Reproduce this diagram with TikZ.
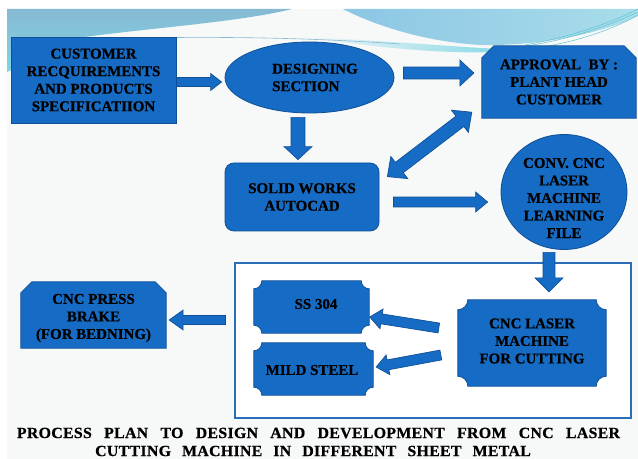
\documentclass[tikz,border=0pt]{standalone}
\usepackage{fontspec}
\setmainfont{Liberation Serif}[BoldFeatures={FakeBold=0.6}]
\usetikzlibrary{calc,shapes.geometric}

\definecolor{boxblue}{HTML}{166CC4}
\definecolor{edgeblue}{HTML}{0F4F97}
\definecolor{frameblue}{HTML}{2B6DB6}
\definecolor{slidebg}{HTML}{F7F8F8}
\definecolor{wavesteel}{HTML}{86BAD3}
\definecolor{wavecyan}{HTML}{7DD5E4}
\definecolor{wavelight}{HTML}{A9DDEA}
\definecolor{wavedeep}{HTML}{8CC6E4}
\definecolor{waveline}{HTML}{5FC3D3}

\pgfdeclarelayer{wave}
\pgfdeclarelayer{frame}
\pgfdeclarelayer{shapes}
\pgfsetlayers{wave,frame,shapes,main}

\tikzset{
  txt/.style={font=\bfseries\fontsize{15}{17.6}\selectfont, text=black, align=center, inner sep=0pt},
  captxt/.style={font=\bfseries\fontsize{15}{17.6}\selectfont\addfontfeature{LetterSpace=2}, text=black, inner sep=0pt},
  shapefill/.style={fill=boxblue, draw=edgeblue, line width=0.8pt},
  fatarrow/.style={fill=boxblue, draw=edgeblue, line width=0.7pt, line join=miter},
}

% block arrow: start, end, half shaft width, half head width, head length (pt)
\newcommand\fatarrow[5]{%
  \draw[fatarrow] let \p1=#1, \p2=#2,
      \n1={atan2(\y2-\y1,\x2-\x1)}, \n2={veclen(\x2-\x1,\y2-\y1)} in
    [shift={(\p1)}, rotate=\n1]
    (0pt,#3pt) -- ({\n2-#5pt},#3pt) -- ({\n2-#5pt},#4pt) -- (\n2,0pt)
    -- ({\n2-#5pt},-#4pt) -- ({\n2-#5pt},-#3pt) -- (0pt,-#3pt) -- cycle;}

% block arrow with a head at both ends
\newcommand\fatdarrow[5]{%
  \draw[fatarrow] let \p1=#1, \p2=#2,
      \n1={atan2(\y2-\y1,\x2-\x1)}, \n2={veclen(\x2-\x1,\y2-\y1)} in
    [shift={(\p1)}, rotate=\n1]
    (#5pt,#3pt) -- ({\n2-#5pt},#3pt) -- ({\n2-#5pt},#4pt) -- (\n2,0pt)
    -- ({\n2-#5pt},-#4pt) -- ({\n2-#5pt},-#3pt) -- (#5pt,-#3pt) -- (#5pt,-#4pt)
    -- (0pt,0pt) -- (#5pt,#4pt) -- cycle;}

% plaque outline (quarter-circle notches) around a node
\newcommand\plaque[2]{%
  \begin{pgfonlayer}{shapes}
  \draw[shapefill]
    ([xshift=#2bp]#1.north west) -- ([xshift=-#2bp]#1.north east)
    .. controls ([xshift=-#2bp,yshift={-0.55*#2bp}]#1.north east)
            and ([xshift={-0.55*#2bp},yshift=-#2bp]#1.north east) .. ([yshift=-#2bp]#1.north east)
    -- ([yshift=#2bp]#1.south east)
    .. controls ([xshift={-0.55*#2bp},yshift=#2bp]#1.south east)
            and ([xshift=-#2bp,yshift={0.55*#2bp}]#1.south east) .. ([xshift=-#2bp]#1.south east)
    -- ([xshift=#2bp]#1.south west)
    .. controls ([xshift=#2bp,yshift={0.55*#2bp}]#1.south west)
            and ([xshift={0.55*#2bp},yshift=#2bp]#1.south west) .. ([yshift=#2bp]#1.south west)
    -- ([yshift=-#2bp]#1.north west)
    .. controls ([xshift={0.55*#2bp},yshift=-#2bp]#1.north west)
            and ([xshift=#2bp,yshift={-0.55*#2bp}]#1.north west) .. ([xshift=#2bp]#1.north west)
    -- cycle;
  \end{pgfonlayer}}

% rectangle with its two top corners cut off
\newcommand\snipbox[2]{%
  \begin{pgfonlayer}{shapes}
  \draw[shapefill]
    ([xshift=#2bp]#1.north west) -- ([xshift=-#2bp]#1.north east)
    -- ([yshift=-#2bp]#1.north east) -- (#1.south east) -- (#1.south west)
    -- ([yshift=-#2bp]#1.north west) -- cycle;
  \end{pgfonlayer}}

\begin{document}
\begin{tikzpicture}[x=1bp, y=-1bp]
\useasboundingbox (0,0) rectangle (638,459);

% slide background and header wave
\begin{pgfonlayer}{wave}
  \fill[white] (0,0) rectangle (638,459);
  \fill[slidebg] (7,9) rectangle (638,459);
  \shade[top color=wavesteel, bottom color=wavecyan]
    (7,9) -- (292,9) .. controls (240,22) and (150,28) .. (85,37)
    .. controls (55,45) and (30,62) .. (7,72) -- cycle;
  \shade[left color=wavedeep, right color=wavelight]
    (343,9) -- (638,9) -- (638,16) .. controls (600,34) and (540,46) .. (480,45)
    .. controls (430,42) and (380,28) .. (343,9) -- cycle;
  \shade[left color=slidebg, right color=wavecyan]
    (300,37) .. controls (400,41) and (460,48) .. (525,50)
    .. controls (460,56) and (400,50) .. (300,37) -- cycle;
  \draw[wavesteel, line width=0.6bp] (95,39) .. controls (200,36) and (300,37) .. (400,44);
  \draw[waveline, line width=0.5bp] (520,47) .. controls (570,40) and (610,25) .. (638,12);
  \draw[waveline, line width=0.5bp] (525,45) .. controls (575,36) and (612,22) .. (638,9);
  \draw[waveline, line width=0.5bp] (530,49) .. controls (580,42) and (615,28) .. (638,15);
\end{pgfonlayer}

% frame around the cutting stage
\begin{pgfonlayer}{frame}
  \node[draw=frameblue, line width=1.2pt, fill=white, minimum width=396bp,
        minimum height=155bp, inner sep=0pt] (frame) at (433,340.5) {};
\end{pgfonlayer}

% blocks
\node[txt, shapefill, rectangle, minimum width=165bp, minimum height=86bp] (cust) at (93.5,80)
  {CUSTOMER\\RECQUIREMENTS\\AND PRODUCTS\\SPECIFICATIION};
\node[shapefill, ellipse, minimum width=169bp, minimum height=71bp, inner sep=0pt] (design) at (309.5,77.5) {};
\node[txt, align=left, anchor=west] (designtxt) at (272,77.5) {DESIGNING\\SECTION};

\node[txt, minimum width=154bp, minimum height=72bp] (appr) at (559,82)
  {APPROVAL\ \ BY :\\PLANT HEAD\\CUSTOMER};
\snipbox{appr}{12}

\node[txt, shapefill, rounded corners=9bp, minimum width=154bp, minimum height=68bp] (solid) at (302,197)
  {SOLID WORKS\\AUTOCAD};

\node[shapefill, ellipse, minimum width=126bp, minimum height=115bp, inner sep=0pt] (conv) at (564,192) {};
\node[txt] (convtxt) at (564,198) {CONV. CNC\\LASER\\MACHINE\\LEARNING\\FILE};

\node[minimum width=148bp, minimum height=86bp, inner sep=0pt] (laser) at (532,343) {};
\plaque{laser}{10}
\node[txt] (lasertxt) at (532,341) {CNC LASER\\MACHINE\\FOR CUTTING};

\node[minimum width=115bp, minimum height=52bp, inner sep=0pt] (ss) at (311.5,307) {};
\plaque{ss}{8}
\node[txt] (sstxt) at (316,304) {SS 304};

\node[minimum width=119bp, minimum height=52bp, inner sep=0pt] (mild) at (313.5,369) {};
\plaque{mild}{8}
\node[txt] (mildtxt) at (312,370) {MILD STEEL};

\node[minimum width=145bp, minimum height=66bp, inner sep=0pt] (brake) at (93.5,315) {};
\snipbox{brake}{11}
\node[txt] (braketxt) at (93.5,318) {CNC PRESS\\BRAKE\\(FOR BEDNING)};

% block arrows between the stages
\fatarrow{([yshift=-2bp]cust.east)}{([xshift=-3bp,yshift=-4.5bp]design.west)}{4.5}{8.5}{11}
\fatarrow{([xshift=9bp,yshift=4.5bp]design.east)}{([xshift=-8bp,yshift=9bp]appr.west)}{6}{13}{14}
\fatarrow{([xshift=-11.5bp,yshift=-4bp]design.south)}{([xshift=-4bp,yshift=3bp]solid.north)}{7}{14}{13}
\fatdarrow{([xshift=8bp,yshift=-14bp]solid.north east)}{([xshift=-10bp,yshift=6bp]appr.south west)}{6.5}{14}{15}
\fatarrow{([xshift=14bp,yshift=-5bp]solid.east)}{([xshift=-13bp,yshift=-10bp]conv.west)}{5}{10}{12}
\fatarrow{([xshift=-15bp,yshift=-2.5bp]conv.south)}{([xshift=17bp,yshift=8bp]laser.north)}{6}{14}{14}
\fatarrow{([xshift=-19bp,yshift=15bp]laser.west)}{([xshift=0.5bp,yshift=-10bp]ss.east)}{5}{10}{12}
\fatarrow{([xshift=-17bp,yshift=-12bp]laser.west)}{([xshift=3bp,yshift=2bp]mild.east)}{5}{10}{12}
\fatarrow{([xshift=-9bp,yshift=20.5bp]frame.west)}{([xshift=3bp,yshift=-5bp]brake.east)}{4.5}{10}{14}

% caption, set slightly wide to fill the two lines
\node[captxt] (cap1) at (318.5,433)
  {\scalebox{1.06}[1.04]{\makebox[569bp][s]{PROCESS PLAN TO DESIGN AND DEVELOPMENT FROM CNC LASER}}};
\node[captxt] (cap2) at (313,451)
  {\scalebox{1.06}[1.04]{\makebox[411bp][s]{CUTTING MACHINE IN DIFFERENT SHEET METAL}}};
\end{tikzpicture}
\end{document}
